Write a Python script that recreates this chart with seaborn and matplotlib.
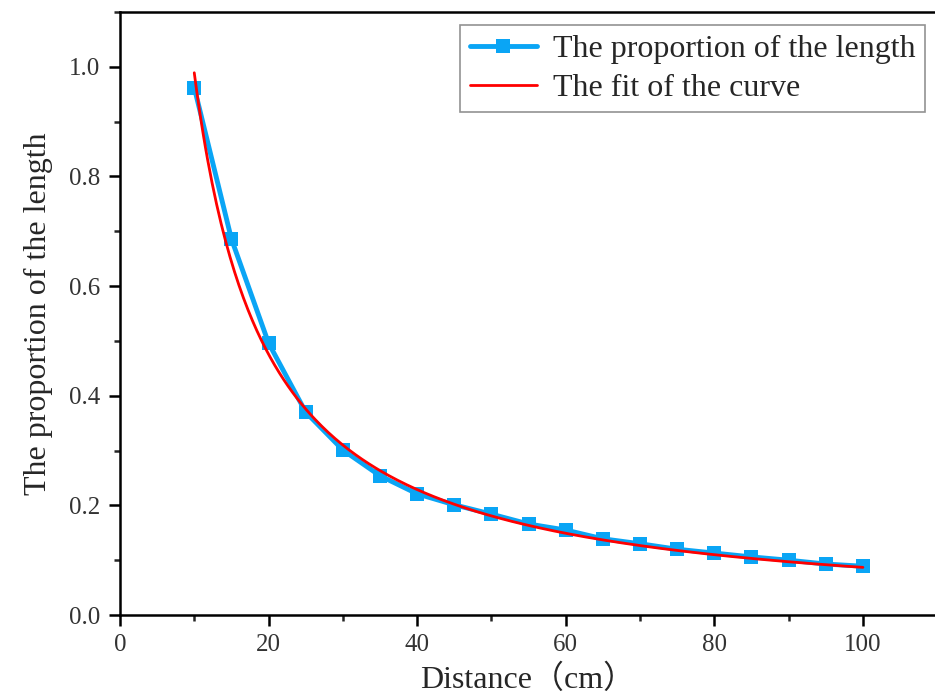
import numpy as np
import pandas as pd
import matplotlib
matplotlib.use("Agg")
import matplotlib.pyplot as plt
import seaborn as sns
from matplotlib.ticker import MultipleLocator, FormatStrFormatter

distance = [10, 15, 20, 25, 30, 35, 40, 45, 50, 55,
            60, 65, 70, 75, 80, 85, 90, 95, 100]
proportion = [0.962, 0.686, 0.496, 0.370, 0.301, 0.254, 0.221, 0.201, 0.184, 0.166,
              0.155, 0.139, 0.130, 0.120, 0.113, 0.106, 0.100, 0.093, 0.089]

# power-law fit y = a * x^b (parameters estimated from the red curve)
fit_a = 11.25
fit_b = -1.056

df = pd.DataFrame({"Distance": distance, "Proportion": proportion})
x_fit = np.linspace(10, 100, 300)
fit_df = pd.DataFrame({"Distance": x_fit, "Fit": fit_a * x_fit ** fit_b})

sns.set_style("ticks")
plt.rcParams["font.family"] = ["Liberation Serif", "Noto Sans CJK SC"]
plt.rcParams["axes.unicode_minus"] = False

fig = plt.figure(figsize=(9.35, 6.97), dpi=100)
# axes runs off the right edge of the picture (right spine not visible)
ax = fig.add_axes([0.1283, 0.1176, 0.8717, 0.8654])

sns.lineplot(data=df, x="Distance", y="Proportion", ax=ax, color="#0AA5F5",
             linewidth=3.5, marker="s", markersize=10, markeredgewidth=0,
             label="The proportion of the length")
sns.lineplot(data=fit_df, x="Distance", y="Fit", ax=ax, color="#FF0000",
             linewidth=2, label="The fit of the curve")

ax.set_xlim(0, 109.7)
ax.set_ylim(0, 1.1)
ax.xaxis.set_major_locator(MultipleLocator(20))
ax.xaxis.set_minor_locator(MultipleLocator(10))
ax.yaxis.set_major_locator(MultipleLocator(0.2))
ax.yaxis.set_minor_locator(MultipleLocator(0.1))
ax.yaxis.set_major_formatter(FormatStrFormatter("%.1f"))

ax.spines["right"].set_visible(False)
for s in ax.spines.values():
    s.set_linewidth(1.8)
    s.set_color("black")
ax.tick_params(which="major", direction="out", length=8, width=1.8,
               labelsize=18, colors="black", labelcolor="#333333", pad=6)
ax.tick_params(which="minor", direction="out", length=4, width=1.8)

ax.set_xlabel("Distance（cm）", fontsize=23, labelpad=6)
ax.set_ylabel("The proportion of the length", fontsize=23, labelpad=12)

leg = ax.legend(loc="upper right", bbox_to_anchor=(925 / 935, (697 - 25) / 697),
                bbox_transform=fig.transFigure, fontsize=23, frameon=True,
                fancybox=False, borderpad=0.3, handlelength=2.1,
                handletextpad=0.5, labelspacing=0.3, borderaxespad=0)
leg.get_frame().set_edgecolor("#777777")
leg.get_frame().set_linewidth(1.2)

fig.savefig("out.png", dpi=100)
